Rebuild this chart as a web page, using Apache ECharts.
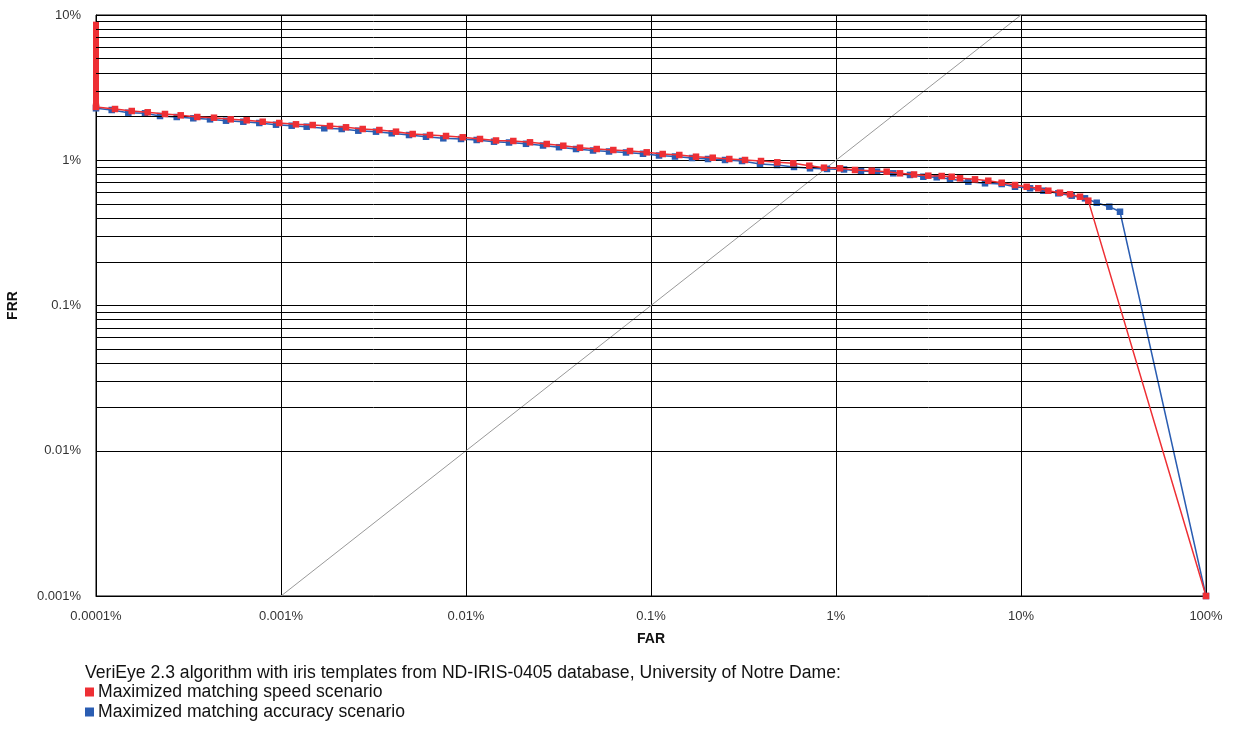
<!DOCTYPE html>
<html>
<head>
<meta charset="utf-8">
<script src="https://cdn.jsdelivr.net/npm/echarts@6/dist/echarts.min.js"></script>
<style>html,body{margin:0;padding:0;background:#fff}#c{width:1235px;height:740px}</style>
</head>
<body>
<div id="c"></div>
<script>
// ---- data (FAR %, FRR %) ----
var speedFAR = [0.0001,0.0001267,0.000156,0.0001903,0.000236,0.000287,0.0003527,0.0004343,0.0005348,0.0006525,0.0007963,0.000979,0.001205,0.001484,0.00184,0.002246,0.002765,0.0034,0.004184,0.005151,0.006389,0.007798,0.009598,0.0119,0.01453,0.01802,0.02218,0.02731,0.03357,0.04133,0.05088,0.06256,0.077,0.0948,0.1157,0.1422,0.1751,0.2156,0.265,0.3223,0.3932,0.4817,0.5877,0.7174,0.8611,1.051,1.267,1.56,1.879,2.218,2.641,3.154,3.727,4.222,4.68,5.642,6.656,7.865,9.282,10.73,12.4,14.05,16.25,18.41,20.84,23.11,100];
var speedFRR = [2.33,2.253,2.183,2.139,2.082,2.039,1.985,1.963,1.913,1.884,1.842,1.805,1.768,1.748,1.721,1.686,1.641,1.615,1.573,1.516,1.492,1.469,1.439,1.401,1.368,1.357,1.329,1.294,1.259,1.22,1.195,1.176,1.158,1.134,1.104,1.087,1.058,1.041,1.02,1.004,0.988,0.968,0.953,0.917,0.889,0.88,0.857,0.847,0.834,0.813,0.798,0.783,0.779,0.77,0.751,0.739,0.723,0.7,0.675,0.657,0.641,0.617,0.598,0.583,0.561,0.527,0.001];
var speedVerticalFAR = [0.0001,0.0001];
var speedVerticalFRR = [9.0,2.33];

var accFAR = [0.0001,0.0001216,0.0001495,0.000184,0.0002218,0.0002731,0.0003357,0.0004133,0.0005043,0.0006255,0.0007632,0.0009397,0.001142,0.001377,0.001714,0.002129,0.002617,0.003262,0.003967,0.00492,0.006078,0.007541,0.009398,0.01142,0.01417,0.01708,0.0211,0.02608,0.03182,0.03933,0.0486,0.05929,0.07326,0.09053,0.1105,0.1348,0.1666,0.2033,0.2512,0.3104,0.3883,0.4798,0.5929,0.7236,0.8941,1.105,1.365,1.666,2.04,2.512,2.965,3.502,4.133,5.19,6.389,7.865,9.282,11.19,13.2,15.91,18.8,22.18,25.66,30.02,34.29,100];
var accFRR = [2.279,2.218,2.125,2.105,2.017,1.985,1.945,1.913,1.872,1.842,1.805,1.757,1.729,1.702,1.66,1.641,1.598,1.573,1.533,1.492,1.452,1.416,1.401,1.379,1.342,1.325,1.298,1.263,1.23,1.195,1.167,1.149,1.131,1.108,1.078,1.061,1.036,1.02,1.004,0.988,0.942,0.927,0.899,0.88,0.871,0.864,0.843,0.834,0.813,0.792,0.77,0.763,0.743,0.712,0.694,0.686,0.657,0.641,0.617,0.592,0.57,0.547,0.51,0.479,0.442,0.001];

var eerLineFAR = [0.001,10];
var eerLineFRR = [0.001,10];

var xTickLabels = ['0.0001%','0.001%','0.01%','0.1%','1%','10%','100%'];
var yTickLabels = ['0.001%','0.01%','0.1%','1%','10%'];
var xMin = 0.0001, xMax = 100, yMin = 0.001, yMax = 10;

var titleText = 'VeriEye 2.3 algorithm with iris templates from ND-IRIS-0405 database, University of Notre Dame:';
var speedName = 'Maximized matching speed scenario';
var accName = 'Maximized matching accuracy scenario';

// ---- build ----
function pairs(xs, ys){ return xs.map(function(x,i){ return [x, ys[i]]; }); }
var minorY = [];
for (var d = yMin; d < yMax * 0.999; d *= 10) {
  for (var m = 2; m <= 9; m++) minorY.push({yAxis: +(d*m).toPrecision(3)});
}
var FONT = '"Liberation Sans", Arial, sans-serif';
var RED = '#ee2f34', BLUE = '#2a5db2';

var chart = echarts.init(document.getElementById('c'), null, {renderer:'canvas'});
chart.setOption({
  animation: false,
  backgroundColor: '#ffffff',
  grid: {left: 96, right: 29, top: 15, bottom: 144, containLabel: false, outerBoundsMode: 'none',
    show: true, borderColor: '#000', borderWidth: 1, backgroundColor: 'transparent'},
  xAxis: {
    type: 'log', logBase: 10, min: xMin, max: xMax, splitNumber: 6,
    name: 'FAR', nameLocation: 'middle', nameGap: 36,
    nameTextStyle: {fontFamily: FONT, fontWeight: 'bold', fontSize: 14, color: '#111'},
    axisLine: {show: true, lineStyle: {color: '#000', width: 1}},
    axisTick: {show: false},
    axisLabel: {fontFamily: FONT, fontSize: 13, color: '#333', margin: 14, showMinLabel: true, showMaxLabel: true,
      formatter: function(v){ return xTickLabels[Math.round(Math.log10(v) - Math.log10(xMin))] || ''; }},
    splitLine: {show: true, lineStyle: {color: '#000', width: 1}}
  },
  yAxis: {
    type: 'log', logBase: 10, min: yMin, max: yMax, splitNumber: 4,
    name: 'FRR', nameLocation: 'middle', nameGap: 76, nameRotate: 90,
    nameTextStyle: {fontFamily: FONT, fontWeight: 'bold', fontSize: 14, color: '#111'},
    axisLine: {show: true, lineStyle: {color: '#000', width: 1}},
    axisTick: {show: false},
    axisLabel: {fontFamily: FONT, fontSize: 13, color: '#333', margin: 15, showMinLabel: true, showMaxLabel: true,
      formatter: function(v){ return yTickLabels[Math.round(Math.log10(v) - Math.log10(yMin))] || ''; }},
    splitLine: {show: true, lineStyle: {color: '#000', width: 1}}
  },
  legend: {
    orient: 'vertical', left: 85, top: 683, padding: 0, itemGap: 2, itemWidth: 9, itemHeight: 9, icon: 'rect',
    data: [speedName, accName],
    textStyle: {fontFamily: FONT, fontSize: 17.6, color: '#111', padding: [0,0,0,-1]},
    selectedMode: false
  },
  graphic: [{type: 'text', left: 85, top: 664, style: {text: titleText, font: '17.6px ' + FONT, fill: '#111'}}],
  series: [
    {type: 'line', name: 'grid', data: [], silent: true,
      markLine: {silent: true, symbol: ['none','none'], label: {show: false}, animation: false,
        lineStyle: {color: '#000', width: 1, type: 'solid'}, emphasis: {disabled: true}, data: minorY}},
    {type: 'line', name: 'EER', data: pairs(eerLineFAR, eerLineFRR), showSymbol: false, silent: true,
      lineStyle: {color: '#999', width: 1}},
    {type: 'line', name: accName, data: pairs(accFAR, accFRR), symbol: 'rect', symbolSize: 6.5, showAllSymbol: true,
      itemStyle: {color: BLUE}, lineStyle: {color: BLUE, width: 1.5}, z: 3},
    {type: 'line', name: speedName + ' (threshold sweep)', data: pairs(speedVerticalFAR, speedVerticalFRR), showSymbol: false,
      lineStyle: {color: RED, width: 6}, itemStyle: {color: RED}, z: 4},
    {type: 'line', name: speedName, data: pairs(speedFAR, speedFRR), symbol: 'rect', symbolSize: 6.5, showAllSymbol: true,
      itemStyle: {color: RED}, lineStyle: {color: RED, width: 1.5}, z: 5}
  ]
});
</script>
</body>
</html>
